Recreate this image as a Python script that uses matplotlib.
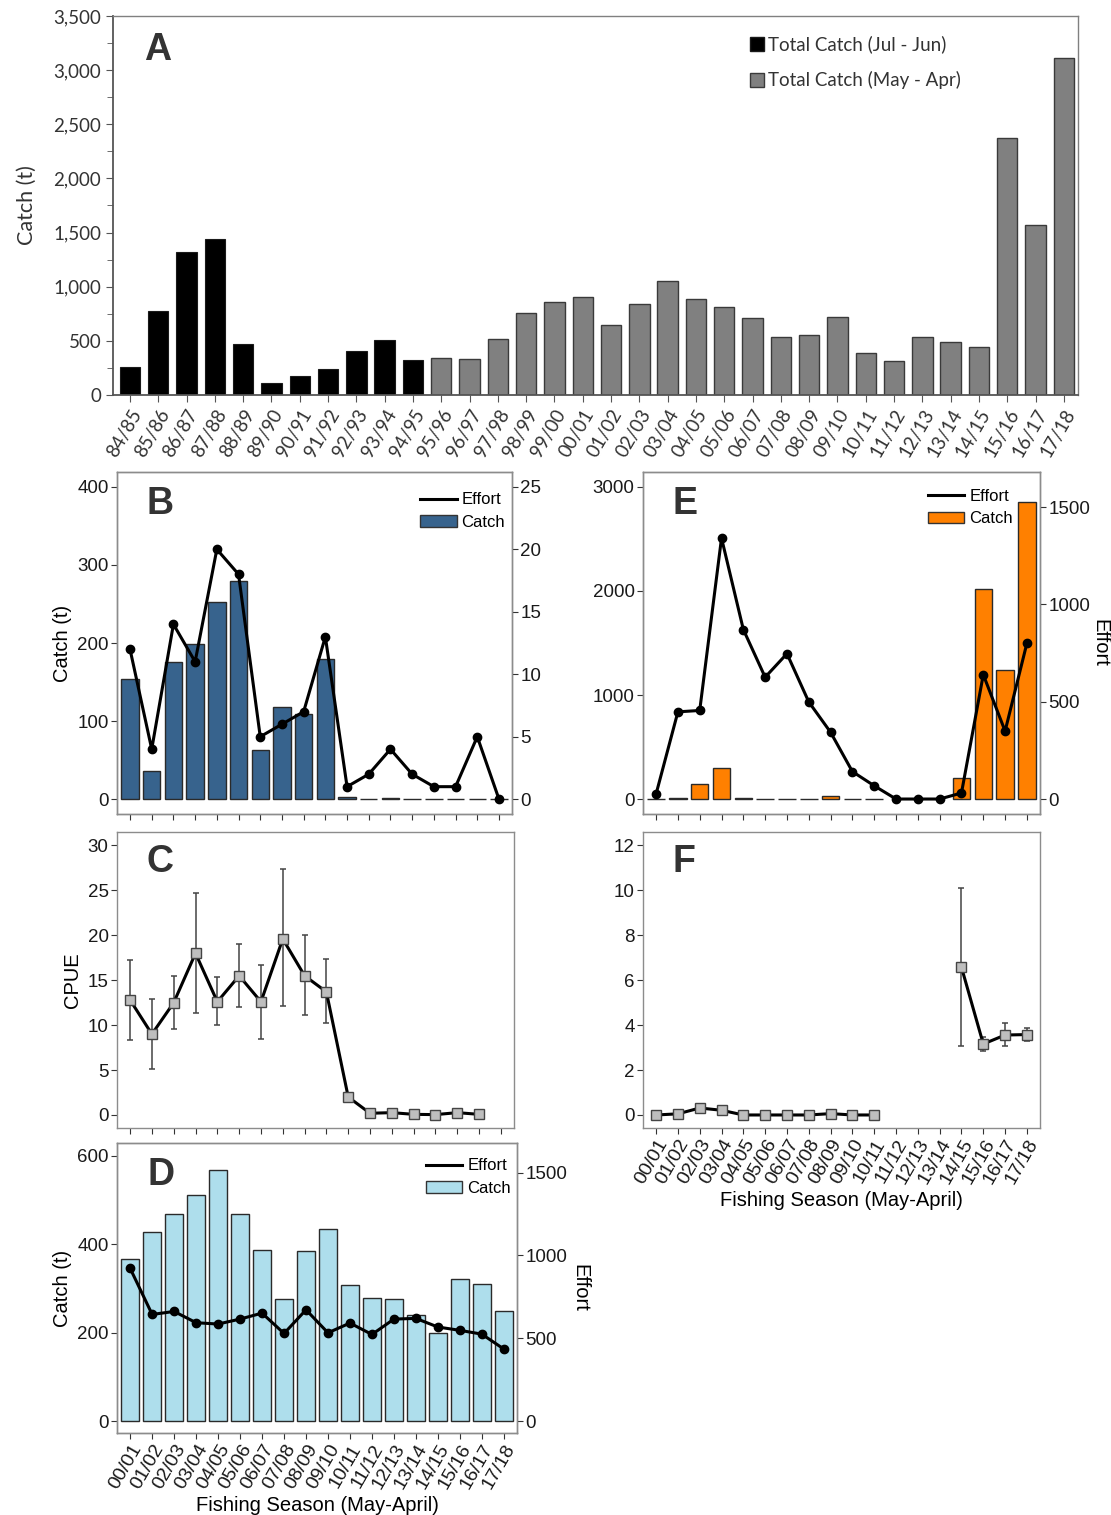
import matplotlib
matplotlib.use("Agg")
import matplotlib.pyplot as plt
import numpy as np
from matplotlib.patches import Patch
from matplotlib.lines import Line2D

# ---- data ----
seasons_a = ["84/85", "85/86", "86/87", "87/88", "88/89", "89/90", "90/91", "91/92",
             "92/93", "93/94", "94/95", "95/96", "96/97", "97/98", "98/99", "99/00",
             "00/01", "01/02", "02/03", "03/04", "04/05", "05/06", "06/07", "07/08",
             "08/09", "09/10", "10/11", "11/12", "12/13", "13/14", "14/15", "15/16",
             "16/17", "17/18"]
catch_jul_jun = [255, 775, 1323, 1443, 468, 108, 175, 237, 406, 508, 323]
catch_may_apr = [345, 332, 514, 754, 858, 901, 646, 840, 1052, 886, 812, 711, 535,
                 554, 720, 388, 314, 535, 486, 443, 2369, 1569, 3116]

seasons = ["00/01", "01/02", "02/03", "03/04", "04/05", "05/06", "06/07", "07/08",
           "08/09", "09/10", "10/11", "11/12", "12/13", "13/14", "14/15", "15/16",
           "16/17", "17/18"]

b_catch = [154, 36, 176, 199, 253, 280, 63, 118, 109, 179, 2.5, 0, 1.5, 0, 0, 0, 0, 0]
b_effort = [12, 4, 14, 11, 20, 18, 5, 6, 7, 13, 1, 2, 4, 2, 1, 1, 5, 0]

c_cpue = [12.8, 9.0, 12.5, 18.0, 12.6, 15.5, 12.6, 19.6, 15.5, 13.7,
          2.0, 0.19, 0.26, 0.07, 0.04, 0.26, 0.07, np.nan]
c_low = [8.4, 5.1, 9.6, 11.4, 10.0, 12.0, 8.5, 12.1, 11.1, 10.2,
         2.0, 0.19, 0.26, 0.07, 0.04, 0.26, 0.07, np.nan]
c_high = [17.3, 12.9, 15.5, 24.7, 15.4, 19.0, 16.7, 27.4, 20.0, 17.4,
          2.0, 0.19, 0.26, 0.07, 0.04, 0.26, 0.07, np.nan]

d_catch = [366, 428, 469, 512, 567, 468, 386, 277, 385, 434, 308, 278, 277, 241,
           200, 322, 310, 248]
d_effort = [922, 644, 662, 594, 586, 616, 652, 529, 672, 533, 592, 523, 616, 620,
            568, 548, 525, 435]

e_catch = [0, 10, 144, 303, 12, 0, 3, 0, 26, 0, 0, np.nan, np.nan, np.nan,
           201, 2019, 1244, 2855]
e_effort = [26, 448, 455, 1341, 871, 626, 747, 499, 343, 141, 68, 0, 0, 0,
            31, 639, 349, 801]

f_cpue = [0.0, 0.05, 0.31, 0.21, 0.0, 0.0, 0.0, 0.0, 0.06, 0.0, 0.0,
          np.nan, np.nan, np.nan, 6.58, 3.16, 3.56, 3.58]
f_low = [0.0, 0.05, 0.31, 0.21, 0.0, 0.0, 0.0, 0.0, 0.06, 0.0, 0.0,
         np.nan, np.nan, np.nan, 3.06, 2.87, 3.05, 3.31]
f_high = [0.0, 0.05, 0.31, 0.21, 0.0, 0.0, 0.0, 0.0, 0.06, 0.0, 0.0,
          np.nan, np.nan, np.nan, 10.1, 3.49, 4.1, 3.88]

# ---- figure ----
W, H = 1111, 1515
fig = plt.figure(figsize=(W / 100, H / 100), dpi=100)
plt.rcParams['font.family'] = ['Liberation Sans', 'DejaVu Sans']
LATO = ['Lato', 'DejaVu Sans']

def px_axes(l, t, r, b):
    return fig.add_axes([l / W, 1 - b / H, (r - l) / W, (b - t) / H])

def gg_style(ax):
    for s in ax.spines.values():
        s.set_color('#8c8c8c')
        s.set_linewidth(1.0)
    ax.tick_params(direction='out', length=4, width=0.8, color='#333333',
                   labelsize=13.5, labelcolor='#1a1a1a', pad=2)

def letter(ax, txt, x, y):
    ax.text(x, y, txt, transform=ax.transAxes, fontsize=27, fontweight='bold',
            color='#333333', va='center', ha='left', zorder=10)

def legend(ax, color, x, y):
    hs = [Line2D([], [], color='black', lw=2.2),
          Patch(facecolor=color, edgecolor='#333333', lw=1)]
    ax.legend(hs, ['Effort', 'Catch'], loc='upper left', bbox_to_anchor=(x, y),
              frameon=False, fontsize=12, handlelength=2.2, handletextpad=0.3,
              labelspacing=0.45, borderaxespad=0)

x = np.arange(len(seasons))

# ---- panel A ----
axA = px_axes(113, 16, 1078, 395)
xa = np.arange(len(seasons_a))
n1 = len(catch_jul_jun)
axA.bar(xa[:n1], catch_jul_jun, width=0.72, color='black', edgecolor='#1a1a1a', lw=0.8)
axA.bar(xa[n1:], catch_may_apr, width=0.72, color='#808080', edgecolor='#3a3a3a', lw=1.0)
axA.set_xlim(-0.6, len(seasons_a) - 0.5)
axA.set_ylim(0, 3500)
axA.set_yticks(np.arange(0, 3501, 500))
axA.set_yticks(np.arange(0, 3501, 250), minor=True)
axA.set_yticklabels([f"{v:,}" for v in range(0, 3501, 500)])
axA.set_xticks(xa)
axA.set_xticklabels(seasons_a, rotation=60, ha='right', rotation_mode='anchor')
for lab in axA.get_xticklabels() + axA.get_yticklabels():
    lab.set_family(LATO)
axA.tick_params(axis='both', which='both', direction='out', color='#555555',
                labelsize=13.5, labelcolor='#333333')
axA.tick_params(axis='both', which='major', length=5)
axA.tick_params(axis='y', which='minor', length=4)
axA.tick_params(axis='x', pad=3)
for s in ['left', 'bottom']:
    axA.spines[s].set_color('#555555')
    axA.spines[s].set_linewidth(1.3)
for s in ['top', 'right']:
    axA.spines[s].set_color('#808080')
    axA.spines[s].set_linewidth(1.0)
axA.set_ylabel('Catch (t)', fontsize=15.5, family=LATO, color='#333333', labelpad=12)
letter(axA, 'A', 0.032, 0.91)
hA = [Patch(facecolor='black', edgecolor='#1a1a1a'),
      Patch(facecolor='#808080', edgecolor='#3a3a3a')]
axA.legend(hA, ['Total Catch (Jul - Jun)', 'Total Catch (May - Apr)'], loc='upper left',
           bbox_to_anchor=(0.652, 0.968), frameon=False,
           prop={'family': LATO, 'size': 13.5},
           handlelength=0.75, handleheight=0.75, handletextpad=0.25, labelspacing=0.95,
           borderaxespad=0, labelcolor='#333333')

# ---- panel B ----
axB = px_axes(117, 472, 512, 814)
axB.bar(x, b_catch, width=0.8, color='#37638d', edgecolor='#2a2a2a', lw=1)
axB.set_ylim(-19, 419)
axB.set_yticks([0, 100, 200, 300, 400])
axB.set_xlim(-0.6, len(seasons) - 0.4)
axB.set_xticks(x)
axB.set_xticklabels([])
axB.set_ylabel('Catch (t)', fontsize=14.5, labelpad=4)
gg_style(axB)
axB2 = axB.twinx()
axB2.plot(x, b_effort, color='black', lw=2.2, marker='o', ms=6)
axB2.set_ylim(-19 / 16, 419 / 16)
axB2.set_yticks([0, 5, 10, 15, 20, 25])
gg_style(axB2)
letter(axB2, 'B', 0.075, 0.906)
legend(axB2, '#37638d', 0.75, 0.96)

# ---- panel E ----
axE = px_axes(643, 472, 1040, 814)
axE.bar(x, e_catch, width=0.8, color='#ff8000', edgecolor='#2a2a2a', lw=1)
axE.set_ylim(-144, 3144)
axE.set_yticks([0, 1000, 2000, 3000])
axE.set_xlim(-0.6, len(seasons) - 0.4)
axE.set_xticks(x)
axE.set_xticklabels([])
gg_style(axE)
axE2 = axE.twinx()
axE2.plot(x, e_effort, color='black', lw=2.2, marker='o', ms=6)
axE2.set_ylim(-144 * 0.5345, 3144 * 0.5345)
axE2.set_yticks([0, 500, 1000, 1500])
axE2.set_ylabel('Effort', fontsize=14.5, rotation=270, labelpad=14)
gg_style(axE2)
letter(axE2, 'E', 0.075, 0.906)
legend(axE2, '#ff8000', 0.70, 0.97)

# ---- panel C ----
axC = px_axes(117, 832, 514, 1128)
axC.errorbar(x, c_cpue, yerr=[np.array(c_cpue) - np.array(c_low),
                              np.array(c_high) - np.array(c_cpue)],
             fmt='none', ecolor='#444444', elinewidth=1.1, capsize=2, capthick=1.1)
axC.plot(x, c_cpue, color='black', lw=2.2, marker='s', ms=7, mfc='#bebebe',
         mec='#444444', mew=1)
axC.set_ylim(-1.45, 31.5)
axC.set_yticks([0, 5, 10, 15, 20, 25, 30])
axC.set_xlim(-0.6, len(seasons) - 0.4)
axC.set_xticks(x)
axC.set_xticklabels([])
axC.set_ylabel('CPUE', fontsize=14.5, labelpad=4)
gg_style(axC)
letter(axC, 'C', 0.075, 0.90)

# ---- panel F ----
axF = px_axes(643, 832, 1040, 1128)
axF.errorbar(x, f_cpue, yerr=[np.array(f_cpue) - np.array(f_low),
                              np.array(f_high) - np.array(f_cpue)],
             fmt='none', ecolor='#444444', elinewidth=1.1, capsize=2, capthick=1.1)
axF.plot(x, f_cpue, color='black', lw=2.2, marker='s', ms=7, mfc='#bebebe',
         mec='#444444', mew=1)
axF.set_ylim(-0.58, 12.6)
axF.set_yticks([0, 2, 4, 6, 8, 10, 12])
axF.set_xlim(-0.6, len(seasons) - 0.4)
axF.set_xticks(x)
axF.set_xticklabels(seasons, rotation=60, ha='right', rotation_mode='anchor')
axF.set_xlabel('Fishing Season (May-April)', fontsize=14.5, labelpad=3)
gg_style(axF)
axF.tick_params(axis='x', labelsize=14)
letter(axF, 'F', 0.075, 0.90)

# ---- panel D ----
axD = px_axes(117, 1143, 517, 1433)
axD.bar(x, d_catch, width=0.8, color='#aedeec', edgecolor='#2a2a2a', lw=1)
axD.set_ylim(-27, 629)
axD.set_yticks([0, 200, 400, 600])
axD.set_xlim(-0.6, len(seasons) - 0.4)
axD.set_xticks(x)
axD.set_xticklabels(seasons, rotation=60, ha='right', rotation_mode='anchor')
axD.set_xlabel('Fishing Season (May-April)', fontsize=14.5, labelpad=3)
axD.set_ylabel('Catch (t)', fontsize=14.5, labelpad=4)
gg_style(axD)
axD.tick_params(axis='x', labelsize=14)
axD2 = axD.twinx()
axD2.plot(x, d_effort, color='black', lw=2.2, marker='o', ms=6)
axD2.set_ylim(-27 * 2.67, 629 * 2.67)
axD2.set_yticks([0, 500, 1000, 1500])
axD2.set_ylabel('Effort', fontsize=14.5, rotation=270, labelpad=16)
gg_style(axD2)
letter(axD2, 'D', 0.075, 0.89)
legend(axD2, '#aedeec', 0.755, 0.97)

fig.savefig('out.png', dpi=100)
